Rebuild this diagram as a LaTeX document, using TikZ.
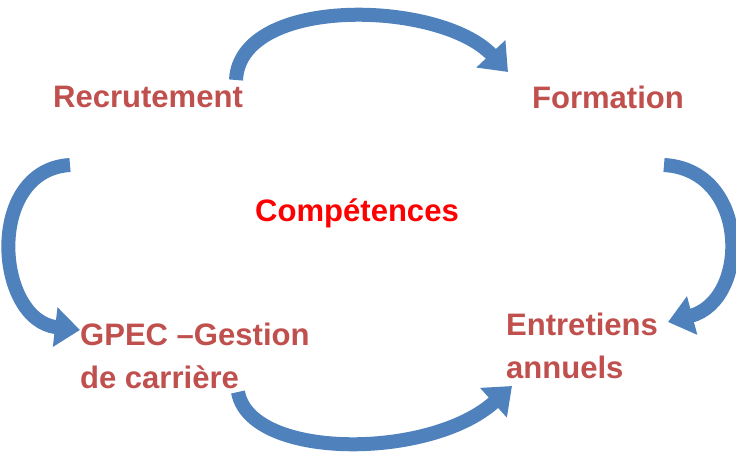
\documentclass[tikz,border=0pt]{standalone}
\usepackage{fontspec}
\setmainfont{Liberation Sans}
\usetikzlibrary{arrows.meta, positioning}
\definecolor{labelred}{RGB}{192,80,77}
\definecolor{arrowblue}{RGB}{79,129,189}
\definecolor{arrowdark}{RGB}{31,73,125}

\tikzset{
  label/.style = {text = labelred, font = \fontsize{26.5}{37}\selectfont\bfseries, align = left},
  cycle/.style = {arrowblue, line width = 0.42cm, line cap = butt,
                  -{Triangle[length = 0.75cm, width = 1.15cm]}}
}

\begin{document}
\begin{tikzpicture} [x = 0.03cm, y = -0.03cm]
\useasboundingbox (0,0) rectangle (736,453);

\node (rec) [label] at (148,97) {Recrutement};
\node (form) [label] at (608,97) {Formation};
\node (comp) [label, text = red] at (357,213) {Compétences};
\node (gpec) [label, anchor = west] at (76,356) {GPEC –Gestion\\de carrière};
\node (entr) [label, anchor = west] at (502,346) {Entretiens\\annuels};

% cycle arrows
\coordinate (a1) at (236,80);
\coordinate (b1) at (508,72);
\coordinate (a2) at (70,165);
\coordinate (b2) at (80,330);
\coordinate (a3) at (664,165);
\coordinate (b3) at (668,322);
\coordinate (a4) at (238,392);
\coordinate (b4) at (512,386);

\draw [cycle] (a1) .. controls (240,-5) and (440,0) .. (b1);
\draw [cycle] (a2) .. controls (-15,170) and (-5,320) .. (b2);
\draw [cycle] (a3) .. controls (750,170) and (750,300) .. (b3);
\draw [cycle] (a4) .. controls (250,460) and (430,460) .. (b4);

\end{tikzpicture}
\end{document}
